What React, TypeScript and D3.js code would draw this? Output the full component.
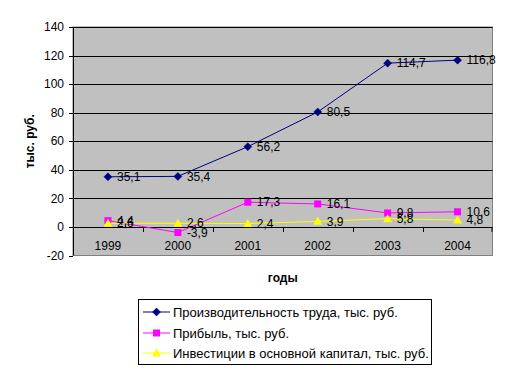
import React from "react";
import * as d3 from "d3";

const years = ["1999", "2000", "2001", "2002", "2003", "2004"];
const productivity = [35.1, 35.4, 56.2, 80.5, 114.7, 116.8];
const profit = [4.4, -3.9, 17.3, 16.1, 9.8, 10.6];
const investment = [2.6, 2.6, 2.4, 3.9, 5.8, 4.8];
const yTicks = [-20, 0, 20, 40, 60, 80, 100, 120, 140];
const seriesNames = [
  "Производительность труда, тыс. руб.",
  "Прибыль, тыс. руб.",
  "Инвестиции в основной капитал, тыс. руб.",
];
const seriesColors = ["#000080", "#FF00FF", "#FFFF00"];
const seriesShapes = ["diamond", "square", "triangle"];

const W = 509, H = 377;
const L = 73, R = 492.5, T = 27, B = 255.5;
const font = "Arial, 'Liberation Sans', sans-serif";

function Marker({ shape, x, y, color }: { shape: string; x: number; y: number; color: string }) {
  if (shape === "diamond") {
    return <path d={`M${x},${y - 4}L${x + 4},${y}L${x},${y + 4}L${x - 4},${y}Z`} fill={color} stroke={color} strokeWidth={0.5} />;
  }
  if (shape === "square") {
    return <rect x={x - 3.5} y={y - 3.5} width={7} height={7} fill={color} />;
  }
  return <path d={`M${x},${y - 4.5}L${x + 4.5},${y + 3.5}L${x - 4.5},${y + 3.5}Z`} fill={color} />;
}

export default function App() {
  const x = d3.scaleBand().domain(years).range([L, R]);
  const y = d3.scaleLinear().domain([-20, 140]).range([B, T]);
  const cx = (d: string) => (x(d) as number) + x.bandwidth() / 2;
  const series = [productivity, profit, investment];
  const line = d3.line<number>().x((_, i) => cx(years[i])).y((v) => y(v));
  const fmt = (v: number) => v.toFixed(1).replace(".", ",");
  const legendY = [312, 333, 353];

  return (
    <svg width={W} height={H} style={{ position: "absolute", left: 0, top: 0, background: "#fff" }} fontFamily={font}>
      <rect x={L} y={T} width={R - L} height={B - T} fill="#C0C0C0" stroke="#808080" strokeWidth={1} />
      {yTicks.filter((t) => t > 0).map((t) => (
        <line key={t} x1={L} x2={R} y1={Math.round(y(t)) + 0.5} y2={Math.round(y(t)) + 0.5} stroke="#000" strokeWidth={1} />
      ))}
      {/* y axis */}
      <line x1={L + 0.5} x2={L + 0.5} y1={T} y2={B} stroke="#000" />
      {yTicks.map((t) => (
        <g key={t}>
          <line x1={L - 4} x2={L} y1={Math.round(y(t)) + 0.5} y2={Math.round(y(t)) + 0.5} stroke="#000" />
          <text x={L - 9} y={y(t)} dy="0.35em" textAnchor="end" fontSize={12}>{t}</text>
        </g>
      ))}
      {/* category axis at 0 */}
      <line x1={L} x2={R} y1={Math.round(y(0)) + 0.5} y2={Math.round(y(0)) + 0.5} stroke="#000" />
      {years.map((yr) => (
        <g key={yr}>
          <line x1={Math.round(x(yr) as number) + 0.5} x2={Math.round(x(yr) as number) + 0.5} y1={y(0)} y2={y(0) + 5} stroke="#000" />
          <text x={cx(yr)} y={B - 10} dy="0.35em" textAnchor="middle" fontSize={12}>{yr}</text>
        </g>
      ))}
      <line x1={R - 0.5} x2={R - 0.5} y1={y(0)} y2={y(0) + 5} stroke="#000" />
      {/* series */}
      {series.map((s, si) => (
        <g key={si}>
          <path d={line(s) || ""} fill="none" stroke={seriesColors[si]} strokeWidth={1} />
          {s.map((v, i) => (
            <Marker key={i} shape={seriesShapes[si]} x={cx(years[i])} y={y(v)} color={seriesColors[si]} />
          ))}
        </g>
      ))}
      {series.map((s, si) => (
        <g key={"l" + si}>
          {s.map((v, i) => (
            <text key={i} x={cx(years[i]) + 9} y={y(v)} dy="0.35em" fontSize={12}>{fmt(v)}</text>
          ))}
        </g>
      ))}
      {/* titles */}
      <text transform={`translate(34,${(T + B) / 2}) rotate(-90)`} textAnchor="middle" fontSize={12} fontWeight="bold">тыс. руб.</text>
      <text x={(L + R) / 2} y={278} dy="0.35em" textAnchor="middle" fontSize={12} fontWeight="bold">годы</text>
      {/* legend */}
      <rect x={138.5} y={299.5} width={293} height={65} fill="#fff" stroke="#000" />
      {seriesNames.map((n, i) => (
        <g key={n}>
          <line x1={143} x2={170} y1={legendY[i]} y2={legendY[i]} stroke={seriesColors[i]} />
          <Marker shape={seriesShapes[i]} x={156.5} y={legendY[i]} color={seriesColors[i]} />
          <text x={173} y={legendY[i]} dy="0.35em" fontSize={13}>{n}</text>
        </g>
      ))}
    </svg>
  );
}
